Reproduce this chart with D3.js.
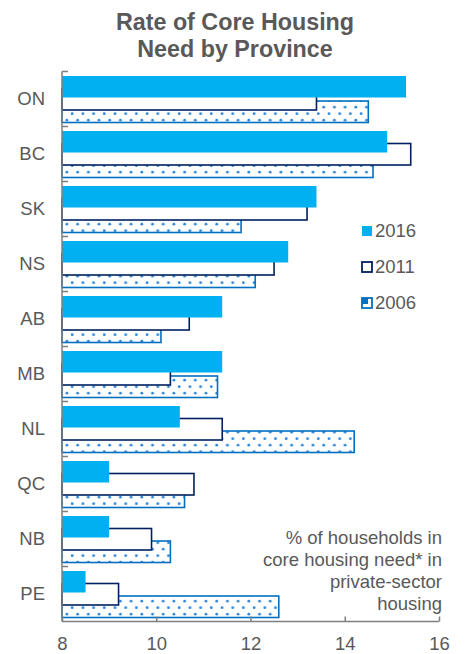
<!DOCTYPE html>
<html>
<head>
<meta charset="UTF-8">
<style>
  body { margin: 0; background: #fff; }
  svg { display: block; font-family: "Liberation Sans", Arial, sans-serif; }
  .axis path, .axis line { stroke: #7f7f7f; stroke-width: 1.5; }
  .axis text { fill: #595959; font-size: 18.5px; }
</style>
<script src="https://d3js.org/d3.v7.min.js"></script>
</head>
<body>
<div id="chart"></div>
<script>
// provinces, top to bottom
var provinces = ["ON", "BC", "SK", "NS", "AB", "MB", "NL", "QC", "NB", "PE"];
var years = ["2016", "2011", "2006"];
var v2016 = [15.3, 14.9, 13.4, 12.8, 11.4, 11.4, 10.5, 9.0, 9.0, 8.5];
var v2011 = [13.4, 15.4, 13.2, 12.5, 10.7, 10.3, 11.4, 10.8, 9.9, 9.2];
var v2006 = [14.5, 14.6, 11.8, 12.1, 10.1, 11.3, 14.2, 10.6, 10.3, 12.6];
var xTicks = [8, 10, 12, 14, 16];
var note = ["% of households in", "core housing need* in", "private-sector", "housing"];

var W = 466, H = 654;
var svg = d3.select("#chart").append("svg").attr("width", W).attr("height", H);

// dotted fill for 2006
var defs = svg.append("defs");
var pat = defs.append("pattern").attr("id", "dots")
  .attr("patternUnits", "userSpaceOnUse").attr("width", 10.7).attr("height", 13);
pat.append("rect").attr("width", 10.7).attr("height", 13).attr("fill", "#fff");
pat.append("circle").attr("cx", 2.7).attr("cy", 3.2).attr("r", 1.4).attr("fill", "#2f88d8");
pat.append("circle").attr("cx", 8).attr("cy", 9.7).attr("r", 1.4).attr("fill", "#2f88d8");

var x = d3.scaleLinear().domain([8, 16]).range([62, 439]);
var y = d3.scaleBand().domain(provinces).range([71.5, 621.5]);

// title
svg.append("text").attr("text-anchor", "middle")
  .attr("fill", "#595959").attr("font-weight", "bold").attr("font-size", "23.3px")
  .selectAll("tspan").data(["Rate of Core Housing", "Need by Province"]).enter()
  .append("tspan").attr("x", 235).attr("y", function(d, i) { return 30 + i * 26.7; })
  .text(function(d) { return d; });

var bh = 21.5;
var series = [
  { key: "2006", vals: v2006, off: 29.5, fill: "url(#dots)", stroke: "#0070c0" },
  { key: "2011", vals: v2011, off: 17, fill: "#fff", stroke: "#002060" },
  { key: "2016", vals: v2016, off: 4.5, fill: "#00b0f0", stroke: "none" }
];

series.forEach(function(s) {
  svg.append("g").selectAll("rect").data(s.vals).enter().append("rect")
    .attr("x", x(8))
    .attr("y", function(d, i) { return y(provinces[i]) + s.off; })
    .attr("width", function(d) { return x(d) - x(8); })
    .attr("height", bh)
    .attr("fill", s.fill)
    .attr("stroke", s.stroke)
    .attr("stroke-width", 1.6);
});

// left axis with ticks at band edges
var yAxisG = svg.append("g").attr("class", "axis");
yAxisG.append("line").attr("x1", x(8)).attr("x2", x(8)).attr("y1", 71.5).attr("y2", 621.5);
yAxisG.selectAll("line.t").data(provinces).enter().append("line").attr("class", "t")
  .attr("x1", x(8)).attr("x2", x(8) + 6)
  .attr("y1", function(d) { return y(d); }).attr("y2", function(d) { return y(d); });
yAxisG.selectAll("text").data(provinces).enter().append("text")
  .attr("x", 45).attr("text-anchor", "end").attr("dy", "0.35em")
  .attr("y", function(d) { return y(d) + y.bandwidth() / 2; })
  .text(function(d) { return d; });

// bottom axis, ticks pointing up
var xAxis = d3.axisBottom(x).tickValues(xTicks).tickSize(-5).tickPadding(15).tickSizeOuter(0);
svg.append("g").attr("class", "axis").attr("transform", "translate(0,621.5)").call(xAxis)
  .call(function(g) { g.select(".domain").attr("d", "M" + x(8) + ",0H" + x(16)); });

// legend
var legCol = { "2016": { fill: "#00b0f0", stroke: "none" },
               "2011": { fill: "#fff", stroke: "#002060" },
               "2006": { fill: "#fff", stroke: "#0070c0" } };
var leg = svg.append("g").selectAll("g").data(years).enter().append("g")
  .attr("transform", function(d, i) { return "translate(362," + (231 + i * 36) + ")"; });
leg.append("rect").attr("x", 0).attr("y", -5).attr("width", 10).attr("height", 10)
  .attr("fill", function(d) { return legCol[d].fill; })
  .attr("stroke", function(d) { return legCol[d].stroke; }).attr("stroke-width", 1.8);
leg.filter(function(d) { return d === "2006"; }).append("rect")
  .attr("x", 0).attr("y", -5).attr("width", 6).attr("height", 6).attr("fill", "#0070c0");
leg.append("text").attr("x", 13).attr("dy", "0.35em").attr("fill", "#595959")
  .attr("font-size", "18.5px").text(function(d) { return d; });

// note
svg.append("g").selectAll("text").data(note).enter().append("text")
  .attr("x", 442).attr("text-anchor", "end").attr("dy", "0.35em")
  .attr("y", function(d, i) { return 538 + i * 21.7; })
  .attr("fill", "#595959").attr("font-size", "18.5px")
  .text(function(d) { return d; });
</script>
</body>
</html>
